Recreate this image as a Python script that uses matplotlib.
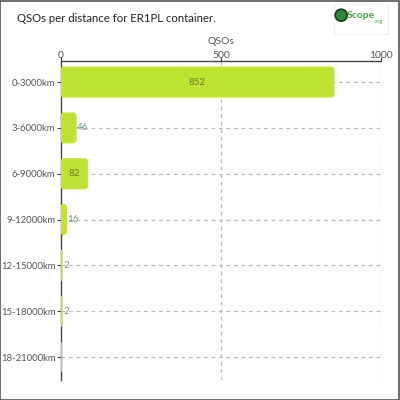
import matplotlib.pyplot as plt
from matplotlib.patches import FancyBboxPatch, Rectangle, Circle

categories = ["0-3000km", "3-6000km", "6-9000km", "9-12000km",
              "12-15000km", "15-18000km", "18-21000km"]
qsos = [852, 46, 82, 16, 2, 2, 0]
x_ticks = [0, 500, 1000]

bar_color = "#bde22f"
text_grey = "#555555"

plt.rcParams["font.family"] = ["Lato", "DejaVu Sans"]

fig = plt.figure(figsize=(4, 4), dpi=100)
ax = fig.add_axes([0.1525, 0.05, 0.8, 0.7975])

# rounded bars
bar_h = 0.64
x_per_px = 1000 / 320
y_per_px = 1 / 45.9
for i, v in enumerate(qsos):
    r = min(3 * x_per_px, v / 2)
    aspect = (3 * y_per_px) / (3 * x_per_px)
    patch = FancyBboxPatch((0, i - bar_h / 2), v, bar_h,
                           boxstyle=f"round,pad=0,rounding_size={r}",
                           mutation_aspect=aspect,
                           facecolor=bar_color, edgecolor="#c2e634",
                           linewidth=1.3, zorder=3)
    ax.add_patch(patch)
    if v > 60:
        ax.text(v / 2, i, str(v), ha="center", va="center",
                fontsize=7, color="#6b7a3a", zorder=4)
    elif v > 0:
        ax.text(v + 1.5 * x_per_px, i, str(v), ha="left", va="center",
                fontsize=7, color="#6f9494", zorder=4)

ax.set_xlim(0, 1000)
ax.set_ylim(6.5, -0.46)
ax.set_yticks(range(len(categories)))
ax.set_yticklabels(categories, fontsize=6.8, color=text_grey)
ax.xaxis.tick_top()
ax.set_xticks(x_ticks)
ax.set_xticklabels([str(t) for t in x_ticks], fontsize=7.5, color=text_grey)
ax.tick_params(axis="y", length=3, color="#444444", pad=1)
ax.tick_params(axis="x", length=3, color="#444444", pad=-2)
ax.text(500, 1.06, "QSOs", transform=ax.get_xaxis_transform(),
        fontsize=7.5, color=text_grey, ha="center", va="center")

for i in range(len(categories)):
    ax.axhline(i, color="#bbbbbb", linestyle=(0, (3, 3)), linewidth=0.9, zorder=1)
for t in x_ticks[1:]:
    ax.axvline(t, color="#bbbbbb", linestyle=(0, (3, 3)), linewidth=0.9, zorder=1)

for s in ["right", "bottom"]:
    ax.spines[s].set_visible(False)
for s in ["top", "left"]:
    ax.spines[s].set_color("#444444")
    ax.spines[s].set_linewidth(1)

# title
fig.text(0.042, 0.955, "QSOs per distance for ER1PL container.",
         fontsize=8.2, color="#222222", ha="left", va="center")

# logo
fig.patches.append(Rectangle((0.835, 0.915), 0.135, 0.075, transform=fig.transFigure,
                             facecolor="white", edgecolor="#eeeeee", linewidth=0.8))
fig.patches.append(Circle((0.853, 0.962), 0.015, transform=fig.transFigure,
                          facecolor="#2e8b3a", edgecolor="#1a3a1a", linewidth=1.2))
fig.text(0.866, 0.96, "Scope", fontsize=7.5, color="#3aaa35", fontweight="bold",
         ha="left", va="center")
fig.text(0.934, 0.945, ".org", fontsize=4, color="#3aaa35", ha="left", va="center")

# outer border
fig.patches.append(Rectangle((0.001, 0.001), 0.997, 0.997, transform=fig.transFigure,
                             facecolor="none", edgecolor="#555555", linewidth=1.2))

fig.savefig("out.png", dpi=100)
